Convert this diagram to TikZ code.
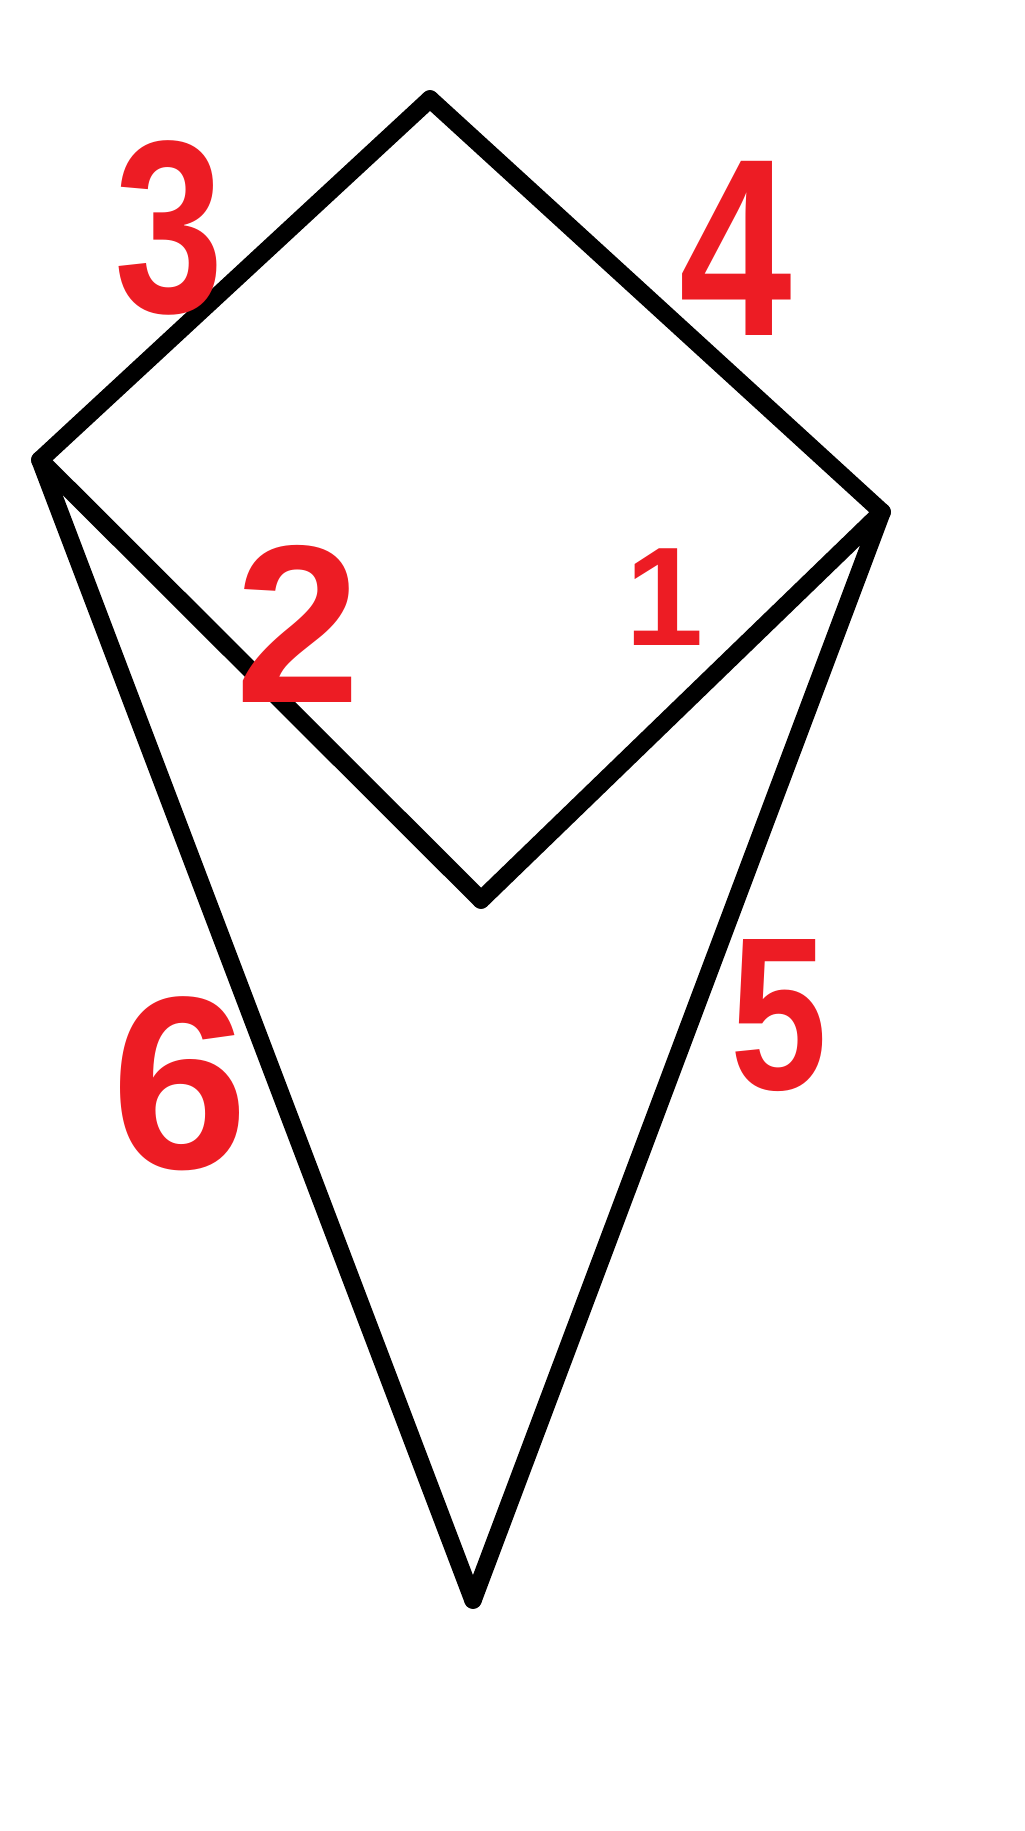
\documentclass[tikz,border=0pt]{standalone}
\usepackage{fontspec}
\setmainfont{Liberation Sans}
\newfontfamily\narrowfont[FakeStretch=0.8]{Liberation Sans}
\usetikzlibrary{positioning}
\definecolor{paintred}{RGB}{237,28,36}
\tikzset{edge/.style={draw=black, line width=5pt, line cap=round, line join=round}}
\tikzset{num/.style={text=paintred, inner sep=0pt}}

\begin{document}
\begin{tikzpicture}[x=0.01cm, y=-0.01cm]
        \useasboundingbox (0,0) rectangle (1024,1831);

        \coordinate (top) at (430,99);
        \coordinate (left) at (40,460);
        \coordinate (right) at (882,512);
        \coordinate (mid) at (481,900);
        \coordinate (tip) at (473,1600);

        \draw[edge] (left) -- (top);
        \draw[edge] (top) -- (right);
        \draw[edge] (right) -- (mid);
        \draw[edge] (mid) -- (left);
        \draw[edge] (left) -- (tip);
        \draw[edge] (right) -- (tip);

        \node[num, font=\narrowfont\fontsize{70}{70}\selectfont\bfseries] (n3) at (169,228) {3};
        \node[num, font=\narrowfont\fontsize{72}{72}\selectfont\bfseries] (n4) at (736,248) {4};
        \node[num, font=\fontsize{64}{64}\selectfont\bfseries] (n2) at (298,624) {2};
        \node[num, font=\fontsize{40}{40}\selectfont\bfseries] (n1) at (665,597) {1};
        \node[num, font=\fontsize{70}{70}\selectfont\bfseries] (n6) at (180,1084) {6};
        \node[num, font=\narrowfont\fontsize{62}{62}\selectfont\bfseries] (n5) at (779,1016) {5};
    \end{tikzpicture}
\end{document}
